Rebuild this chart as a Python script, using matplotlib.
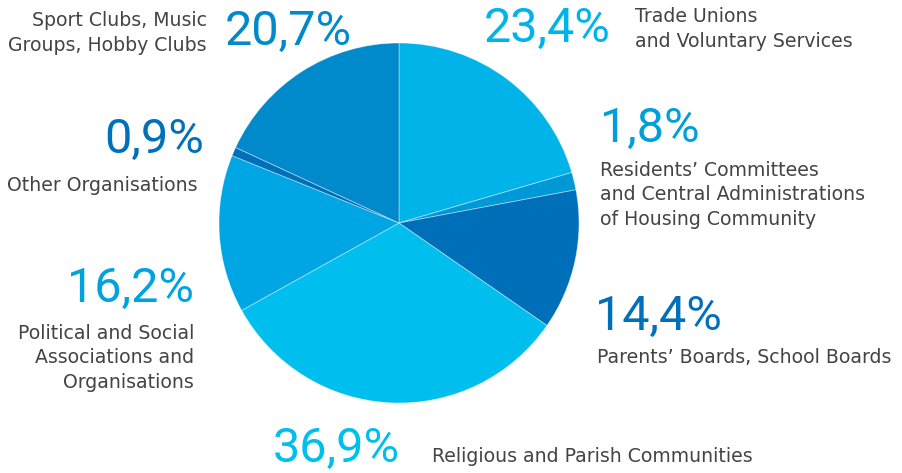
import matplotlib.pyplot as plt

# Data (percent values as printed; wedges are normalised by the pie)
categories = ['Trade Unions\nand Voluntary Services',
              'Residents\u2019 Committees\nand Central Administrations\nof Housing Community',
              'Parents\u2019 Boards, School Boards',
              'Religious and Parish Communities',
              'Political and Social\nAssociations and\nOrganisations',
              'Other Organisations',
              'Sport Clubs, Music\nGroups, Hobby Clubs']
values = [23.4, 1.8, 14.4, 36.9, 16.2, 0.9, 20.7]
value_labels = ['23,4%', '1,8%', '14,4%', '36,9%', '16,2%', '0,9%', '20,7%']

colors = ['#00B4E9', '#0099D8', '#006FBA', '#00BEEE', '#00A5E3', '#006FBA', '#0089CB']
num_colors = ['#00B4E9', '#009FDC', '#0070BA', '#00BEEE', '#00A3E0', '#0070BA', '#0089CB']

W, H = 903, 473

fig = plt.figure(figsize=(W / 100, H / 100), dpi=100)
ax = fig.add_axes([0, 0, 1, 1])

ax.pie(values, colors=colors, startangle=90, counterclock=False,
       center=(399, H - 223), radius=180, frame=True,
       wedgeprops=dict(edgecolor=(1, 1, 1, 0.45), linewidth=0.6))
ax.set_xlim(0, W)
ax.set_ylim(0, H)
ax.set_aspect('equal')
ax.axis('off')

# (x, baseline of last line, align) in pixels from top-left
num_pos = [(484, 42, 'left'), (600, 142, 'left'), (595, 330, 'left'),
           (273, 462, 'left'), (194, 302, 'right'), (204, 153, 'right'),
           (225, 45, 'left')]
lab_pos = [(635, 47, 'left'), (600, 225, 'left'), (597, 363, 'left'),
           (432, 462, 'left'), (194, 388, 'right'), (198, 191, 'right'),
           (207, 51, 'right')]

num_font = dict(family='Roboto', fontsize=35)
lab_font = dict(family='DejaVu Sans', fontsize=13.6, color='#444444')

for i in range(len(values)):
    nx, ny, nha = num_pos[i]
    ax.text(nx, H - ny, value_labels[i], ha=nha, va='baseline',
            color=num_colors[i], **num_font)
    lx, ly, lha = lab_pos[i]
    ax.text(lx, H - ly, categories[i], ha=lha, va='baseline',
            multialignment=lha, linespacing=1.38, **lab_font)

fig.savefig('out.png', dpi=100)
